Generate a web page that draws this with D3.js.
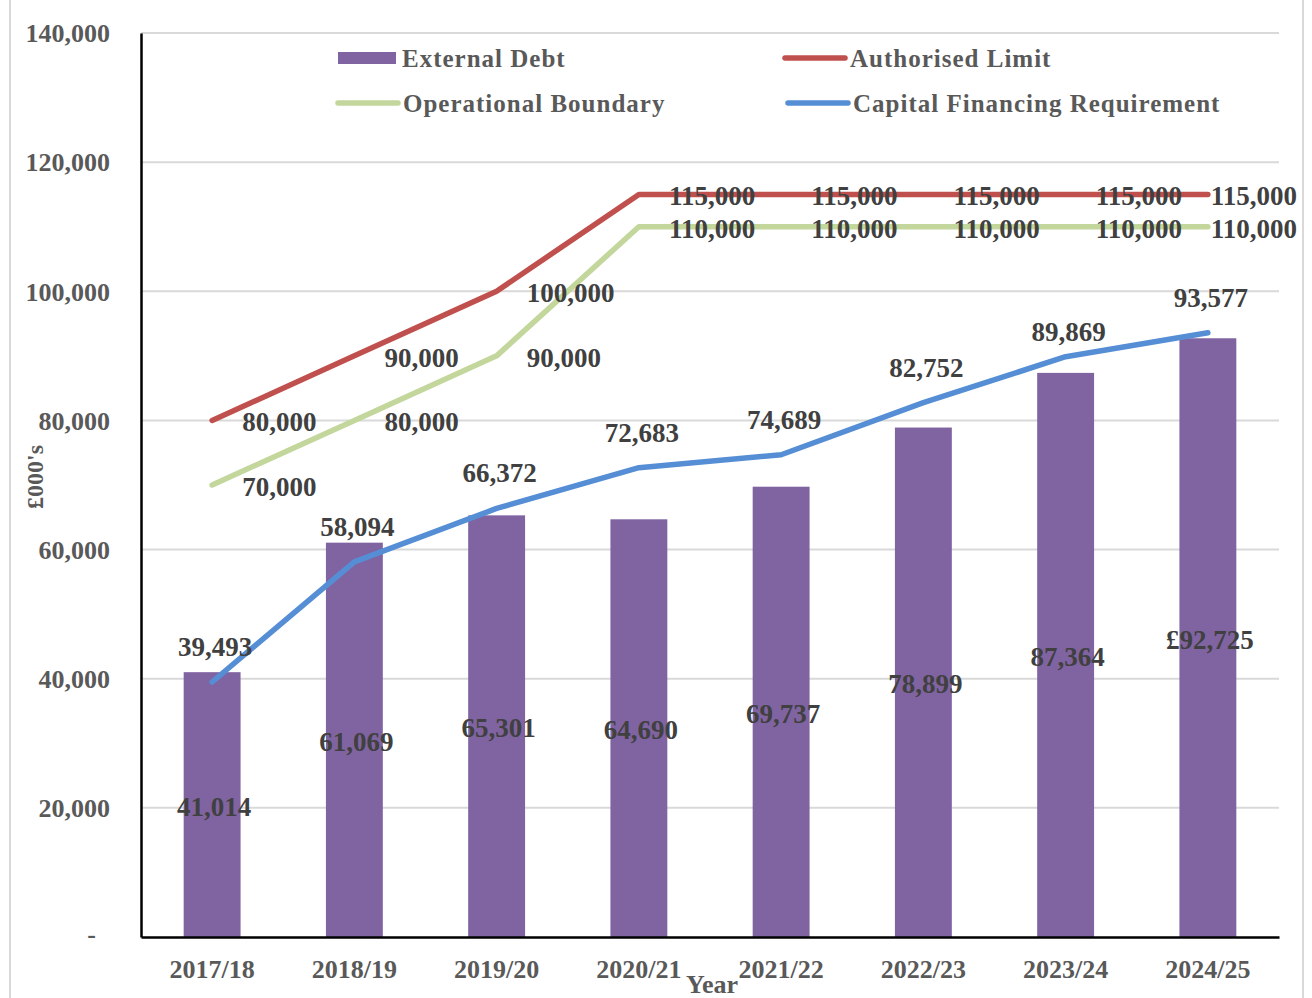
<!DOCTYPE html>
<html>
<head>
<meta charset="utf-8">
<script src="https://cdn.jsdelivr.net/npm/d3@7/dist/d3.min.js"></script>
<style>
  html, body { margin: 0; padding: 0; background: #fff; }
  svg { display: block; font-family: "Liberation Serif", "Times New Roman", serif; font-weight: bold; }
</style>
</head>
<body>
<svg id="chart" width="1312" height="998"></svg>
<script>
// Financial years on the category axis
const years = ["2017/18", "2018/19", "2019/20", "2020/21", "2021/22", "2022/23", "2023/24", "2024/25"];
// £000's
const externalDebt = [41014, 61069, 65301, 64690, 69737, 78899, 87364, 92725];
const authorisedLimit = [80000, 90000, 100000, 115000, 115000, 115000, 115000, 115000];
const operationalBoundary = [70000, 80000, 90000, 110000, 110000, 110000, 110000, 110000];
const capitalFinancingRequirement = [39493, 58094, 66372, 72683, 74689, 82752, 89869, 93577];
const yTicks = [0, 20000, 40000, 60000, 80000, 100000, 120000, 140000];

const colors = {
  debt: "#8064a2",
  limit: "#c0504d",
  boundary: "#c3d69b",
  cfr: "#558ed5",
  grid: "#d9d9d9",
  axisText: "#595959",
  label: "#404040"
};

const svg = d3.select("#chart");
const plot = { left: 141, right: 1279, top: 33, bottom: 937 };

const x = d3.scaleBand().domain(years).range([plot.left, plot.right]).paddingInner(0.6).paddingOuter(0.3);
const y = d3.scaleLinear().domain([0, 140000]).range([plot.bottom, plot.top]);
const cx = d => x(d) + x.bandwidth() / 2;
const fmt = d3.format(",");

// outer frame edges
svg.append("line").attr("x1", 10).attr("x2", 10).attr("y1", 0).attr("y2", 998)
  .attr("stroke", colors.grid).attr("stroke-width", 2);
svg.append("line").attr("x1", 1303).attr("x2", 1303).attr("y1", 0).attr("y2", 998)
  .attr("stroke", colors.grid).attr("stroke-width", 2);

// horizontal gridlines
svg.append("g")
  .selectAll("line")
  .data(yTicks.filter(t => t > 0))
  .join("line")
  .attr("x1", plot.left).attr("x2", plot.right)
  .attr("y1", d => y(d)).attr("y2", d => y(d))
  .attr("stroke", colors.grid).attr("stroke-width", 2);

// bars
svg.append("g")
  .selectAll("rect")
  .data(years)
  .join("rect")
  .attr("x", d => x(d))
  .attr("width", x.bandwidth())
  .attr("y", (d, i) => y(externalDebt[i]))
  .attr("height", (d, i) => y(0) - y(externalDebt[i]))
  .attr("fill", colors.debt);

// lines
const line = d3.line().x((d, i) => cx(years[i])).y(d => y(d));
function drawLine(values, color) {
  svg.append("path")
    .datum(values)
    .attr("d", line)
    .attr("fill", "none")
    .attr("stroke", color)
    .attr("stroke-width", 5.5)
    .attr("stroke-linejoin", "round")
    .attr("stroke-linecap", "round");
}
drawLine(authorisedLimit, colors.limit);
drawLine(operationalBoundary, colors.boundary);
drawLine(capitalFinancingRequirement, colors.cfr);

// axes
const yAxis = d3.axisLeft(y)
  .tickValues(yTicks)
  .tickSize(0)
  .tickPadding(31)
  .tickFormat(d => d === 0 ? "-" : fmt(d));
const gy = svg.append("g").attr("transform", `translate(${plot.left},0)`).call(yAxis);
gy.select(".domain").attr("stroke", "#000").attr("stroke-width", 2.5);
gy.selectAll("text")
  .attr("font-size", 26).attr("font-family", "Liberation Serif").attr("font-weight", "bold")
  .attr("fill", colors.axisText).attr("dy", "0.34em");
gy.selectAll(".tick").filter(d => d === 0).select("text").attr("dx", -14).attr("dy", "0.2em");

const xAxis = d3.axisBottom(x).tickSize(0);
const gx = svg.append("g").attr("transform", `translate(0,${plot.bottom})`).call(xAxis);
gx.select(".domain").attr("stroke", "#000").attr("stroke-width", 2.5);
gx.selectAll("text")
  .attr("font-size", 26).attr("font-family", "Liberation Serif").attr("font-weight", "bold")
  .attr("fill", colors.axisText).attr("y", 41).attr("dy", 0);

// axis titles
svg.append("text").attr("x", 712).attr("y", 993).attr("text-anchor", "middle")
  .attr("font-size", 26).attr("fill", colors.axisText).text("Year");
svg.append("text").attr("transform", "translate(43,477) rotate(-90)").attr("text-anchor", "middle")
  .attr("font-size", 24).attr("fill", colors.axisText).text("£000's");

// data labels
const labels = svg.append("g").attr("font-size", 27).attr("fill", colors.label);

// bar labels centred in each bar
labels.selectAll(".bar-label")
  .data(years)
  .join("text")
  .attr("class", "bar-label")
  .attr("x", d => cx(d) + 2)
  .attr("y", (d, i) => (y(externalDebt[i]) + y(0)) / 2 + 11)
  .attr("text-anchor", "middle")
  .text((d, i) => (i === years.length - 1 ? "£" : "") + fmt(externalDebt[i]));

// capital financing requirement labels above points
labels.selectAll(".cfr-label")
  .data(years)
  .join("text")
  .attr("class", "cfr-label")
  .attr("x", d => cx(d) + 3)
  .attr("y", (d, i) => y(capitalFinancingRequirement[i]) - (i === 6 ? 16 : 26))
  .attr("text-anchor", "middle")
  .text((d, i) => fmt(capitalFinancingRequirement[i]));

// limit and boundary labels to the right of points
function rightLabels(values, cls) {
  labels.selectAll("." + cls)
    .data(years)
    .join("text")
    .attr("class", cls)
    .attr("x", (d, i) => i === years.length - 1 ? 1297 : cx(d) + 30)
    .attr("text-anchor", (d, i) => i === years.length - 1 ? "end" : "start")
    .attr("y", (d, i) => y(values[i]) + 11)
    .text((d, i) => fmt(values[i]));
}
rightLabels(authorisedLimit, "limit-label");
rightLabels(operationalBoundary, "boundary-label");

// legend
const legendItems = [
  { name: "External Debt", color: colors.debt, type: "rect", x: 338, y: 58 },
  { name: "Authorised Limit", color: colors.limit, type: "line", x: 785, y: 58 },
  { name: "Operational Boundary", color: colors.boundary, type: "line", x: 338, y: 103 },
  { name: "Capital Financing Requirement", color: colors.cfr, type: "line", x: 788, y: 103 }
];
const legend = svg.append("g").attr("font-size", 25).attr("letter-spacing", 1).attr("fill", colors.axisText);
legendItems.forEach(item => {
  const g = legend.append("g").attr("transform", `translate(${item.x},${item.y})`);
  if (item.type === "rect") {
    g.append("rect").attr("x", 0).attr("y", -6).attr("width", 58).attr("height", 12).attr("fill", item.color);
  } else {
    g.append("line").attr("x1", 0).attr("x2", 60).attr("y1", 0).attr("y2", 0)
      .attr("stroke", item.color).attr("stroke-width", 5.5).attr("stroke-linecap", "round");
  }
  g.append("text").attr("x", item.type === "rect" ? 64 : 65).attr("y", 9).text(item.name);
});
</script>
</body>
</html>
